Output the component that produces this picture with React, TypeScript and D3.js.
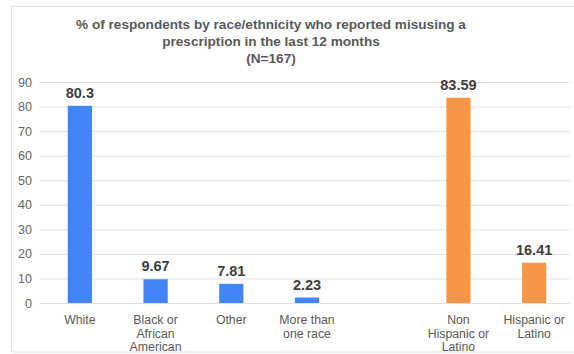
import React from "react";
import * as d3 from "d3";

const titleLines = [
  "% of respondents by race/ethnicity who reported misusing a",
  "prescription in the last 12 months",
  "(N=167)",
];
const slots = ["White", "Black", "Other", "Multi", "gap", "NonHisp", "Hisp"];
const categoryLabels: string[][] = [
  ["White"],
  ["Black or", "African", "American"],
  ["Other"],
  ["More than", "one race"],
  [],
  ["Non", "Hispanic or", "Latino"],
  ["Hispanic or", "Latino"],
];
const values: (number | null)[] = [80.3, 9.67, 7.81, 2.23, null, 83.59, 16.41];
const valueLabels = ["80.3", "9.67", "7.81", "2.23", "", "83.59", "16.41"];
const groups = ["race", "race", "race", "race", "none", "eth", "eth"];
const yTicks = [0, 10, 20, 30, 40, 50, 60, 70, 80, 90];

const W = 574;
const H = 354;
const colors: Record<string, string> = { race: "#4285F4", eth: "#F79646", none: "none" };
const font = "'Liberation Sans', Arial, sans-serif";

export default function App() {
  const x = d3
    .scaleBand<string>()
    .domain(slots)
    .range([42, 572])
    .paddingInner(0.68)
    .paddingOuter(0.34);
  const y = d3.scaleLinear().domain([0, 90]).range([303, 82]);

  return (
    <svg
      width={W}
      height={H}
      style={{ position: "absolute", left: 0, top: 0, display: "block", background: "#fff" }}
      fontFamily={font}
    >
      <rect x={11.5} y={6.5} width={W} height={345.5} fill="#fff" stroke="#e4e4e4" />
      {titleLines.map((t, i) => (
        <text
          key={i}
          x={271}
          y={29 + i * 17}
          textAnchor="middle"
          fontSize={13.6}
          fontWeight="bold"
          fill="#595959"
        >
          {t}
        </text>
      ))}
      {yTicks.map((t) => (
        <g key={t}>
          <line x1={40} x2={570} y1={y(t) + 0.5} y2={y(t) + 0.5} stroke="#e0e0e0" />
          <text x={32} y={y(t) + 4.5} textAnchor="end" fontSize={12.5} fill="#666">
            {t}
          </text>
        </g>
      ))}
      {slots.map((s, i) => {
        const v = values[i];
        const bx = x(s)!;
        const bw = x.bandwidth();
        const cx = bx + bw / 2;
        return (
          <g key={s}>
            {v !== null && (
              <>
                <rect x={bx} y={y(v)} width={bw} height={y(0) - y(v)} fill={colors[groups[i]]} />
                <text
                  x={cx}
                  y={y(v) - 8}
                  textAnchor="middle"
                  fontSize={14.5}
                  fontWeight="bold"
                  fill="#404040"
                >
                  {valueLabels[i]}
                </text>
              </>
            )}
            {categoryLabels[i].map((l, j) => (
              <text
                key={j}
                x={cx}
                y={324 + j * 13.5}
                textAnchor="middle"
                fontSize={12.3}
                fill="#595959"
              >
                {l}
              </text>
            ))}
          </g>
        );
      })}
    </svg>
  );
}
